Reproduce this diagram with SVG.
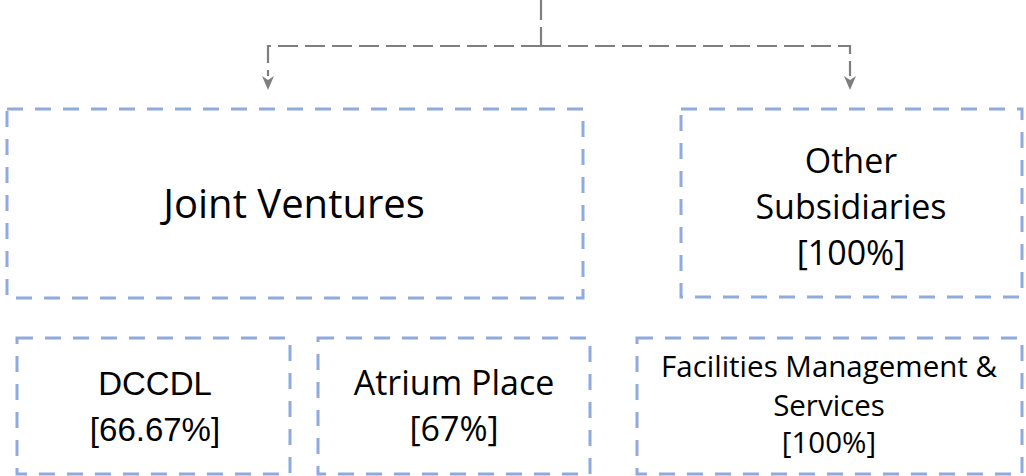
<svg xmlns="http://www.w3.org/2000/svg" width="1026" height="476" viewBox="0 0 1026 476">
<defs>
<style>
.box{fill:#fff;stroke:#8faadc;stroke-width:3;stroke-dasharray:16 12}
.conn{fill:none;stroke:#7f7f7f;stroke-width:2.2;stroke-dasharray:20 7}
.t{font-family:"Open Sans","Liberation Sans",sans-serif;fill:#000;text-anchor:middle}
.a{font-family:"Liberation Sans",Arial,sans-serif;fill:#000;text-anchor:middle}
</style>
</defs>
<rect width="1026" height="476" fill="#fff"/>
<g id="connectors">
<path class="conn" d="M541 0 V46"/>
<path class="conn" d="M541 46 H268 V76"/>
<path class="conn" d="M541 46 H850 V76"/>
<path d="M262 76 L268 80 L274 76 L268 90 Z" fill="#7f7f7f"/>
<path d="M844 76 L850 80 L856 76 L850 90 Z" fill="#7f7f7f"/>
</g>
<g id="joint-ventures">
<rect class="box" x="7" y="109" width="576" height="189"/>
<text class="t" x="294" y="218" font-size="40">Joint Ventures</text>
</g>
<g id="other-subsidiaries">
<rect class="box" x="681" y="109" width="341" height="188"/>
<text class="t" x="851" y="173" font-size="34">Other</text>
<text class="t" x="851" y="219" font-size="34">Subsidiaries</text>
<text class="t" x="851" y="265" font-size="34">[100%]</text>
</g>
<g id="dccdl">
<rect class="box" x="17" y="338" width="273" height="136"/>
<text class="a" x="155" y="395" font-size="33">DCCDL</text>
<text class="a" x="155" y="441" font-size="33">[66.67%]</text>
</g>
<g id="atrium-place">
<rect class="box" x="318" y="338" width="272" height="136"/>
<text class="t" x="454" y="395" font-size="34">Atrium Place</text>
<text class="t" x="454" y="441" font-size="34">[67%]</text>
</g>
<g id="facilities">
<rect class="box" x="637" y="338" width="385" height="136"/>
<text class="t" x="829" y="377" font-size="29.5">Facilities Management &amp;</text>
<text class="t" x="829" y="416" font-size="29.5">Services</text>
<text class="t" x="829" y="453" font-size="29.5">[100%]</text>
</g>
</svg>
